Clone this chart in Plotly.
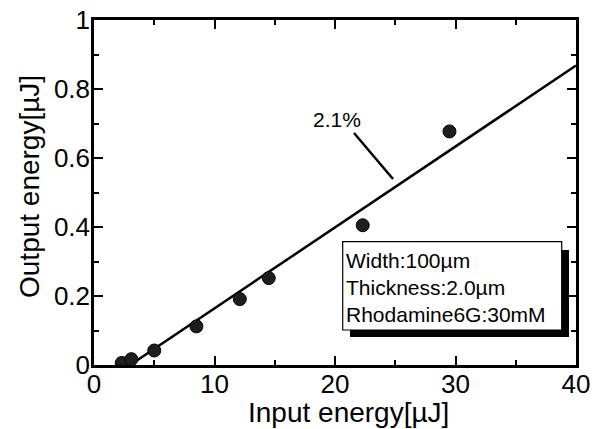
import plotly.graph_objects as go

# ---- data ----
input_energy = [2.3, 3.1, 5.0, 8.5, 12.1, 14.5, 22.3, 29.5]
output_energy = [0.006, 0.017, 0.042, 0.112, 0.191, 0.252, 0.405, 0.677]
fit_x = [3.0, 40.0]
fit_y = [0.0, 0.868]
x_ticks = [0, 10, 20, 30, 40]
y_ticks = [0, 0.2, 0.4, 0.6, 0.8, 1]
y_tick_labels = ["0", "0.2", "0.4", "0.6", "0.8", "1"]
legend_lines = ["Width:100µm", "Thickness:2.0µm", "Rhodamine6G:30mM"]
slope_label = "2.1%"
x_title = "Input energy[µJ]"
y_title = "Output energy[µJ]"

W, H = 607, 429
L, R, T, B = 94, 31, 20, 64
X0, X1, Y0, Y1 = 0, 40, 0, 1
FONT = "Liberation Sans, Arial, sans-serif"


def dx(px):
    return X0 + (px - L) / (W - L - R) * (X1 - X0)


def dy(py):
    return Y0 + (H - B - py) / (H - T - B) * (Y1 - Y0)


def paper_x(px):
    return (px - L) / (W - L - R)


def paper_y(py):
    return (H - B - py) / (H - T - B)


fig = go.Figure()
fig.add_trace(go.Scatter(x=fit_x, y=fit_y, mode="lines",
                         line=dict(color="black", width=2.5),
                         hoverinfo="skip", showlegend=False))
fig.add_trace(go.Scatter(x=input_energy, y=output_energy, mode="markers",
                         marker=dict(size=13, color="#1e1e1e",
                                     line=dict(color="black", width=1)),
                         showlegend=False))

# leader line for slope label
fig.add_shape(type="line", x0=dx(354), y0=dy(133), x1=dx(393), y1=dy(179),
              line=dict(color="black", width=2.5))
fig.add_annotation(x=dx(337), y=dy(119.5), text=slope_label, showarrow=False,
                   font=dict(family=FONT, size=21, color="black"),
                   xanchor="center", yanchor="middle")

# info box with shadow
fig.add_shape(type="rect", x0=dx(350), x1=dx(569), y0=dy(337), y1=dy(250),
              fillcolor="black", line=dict(color="black", width=0), layer="above")
fig.add_shape(type="rect", x0=dx(342.7), x1=dx(561.7), y0=dy(330), y1=dy(241.7),
              fillcolor="white", line=dict(color="black", width=1.2), layer="above")
for i, txt in enumerate(legend_lines):
    fig.add_annotation(x=dx(344), y=dy(260.5 + 27 * i), text=txt, showarrow=False,
                       font=dict(family=FONT, size=21, color="black"),
                       xanchor="left", yanchor="middle")

# axis titles as annotations
fig.add_annotation(xref="paper", yref="paper", x=paper_x(348), y=paper_y(412),
                   text=x_title, showarrow=False,
                   font=dict(family=FONT, size=28, color="black"),
                   xanchor="center", yanchor="middle")
fig.add_annotation(xref="paper", yref="paper", x=paper_x(29), y=paper_y(187),
                   text=y_title, showarrow=False, textangle=-90,
                   font=dict(family=FONT, size=28, color="black"),
                   xanchor="center", yanchor="middle")

axis_common = dict(showline=True, linecolor="black", linewidth=2.5,
                   mirror="ticks", ticks="inside", ticklen=9, tickwidth=2,
                   tickcolor="black", showgrid=False, zeroline=False,
                   automargin=False,
                   tickfont=dict(family=FONT, size=26, color="black"))

fig.update_xaxes(range=[X0, X1], tickvals=x_ticks, ticklabelstandoff=-6,
                 minor=dict(dtick=5, ticks="inside", ticklen=5, tickwidth=2,
                            tickcolor="black", showgrid=False),
                 **axis_common)
fig.update_yaxes(range=[Y0, Y1], tickvals=y_ticks, ticktext=y_tick_labels,
                 ticklabelstandoff=-4,
                 minor=dict(dtick=0.1, ticks="inside", ticklen=5, tickwidth=2,
                            tickcolor="black", showgrid=False),
                 **axis_common)

fig.update_layout(width=W, height=H, margin=dict(l=L, r=R, t=T, b=B),
                  paper_bgcolor="white", plot_bgcolor="white",
                  font=dict(family=FONT, color="black"))

fig.write_html("out.html", config={"displayModeBar": False},
               post_script="document.body.style.margin='0';"
                           "document.body.style.overflow='hidden';")
